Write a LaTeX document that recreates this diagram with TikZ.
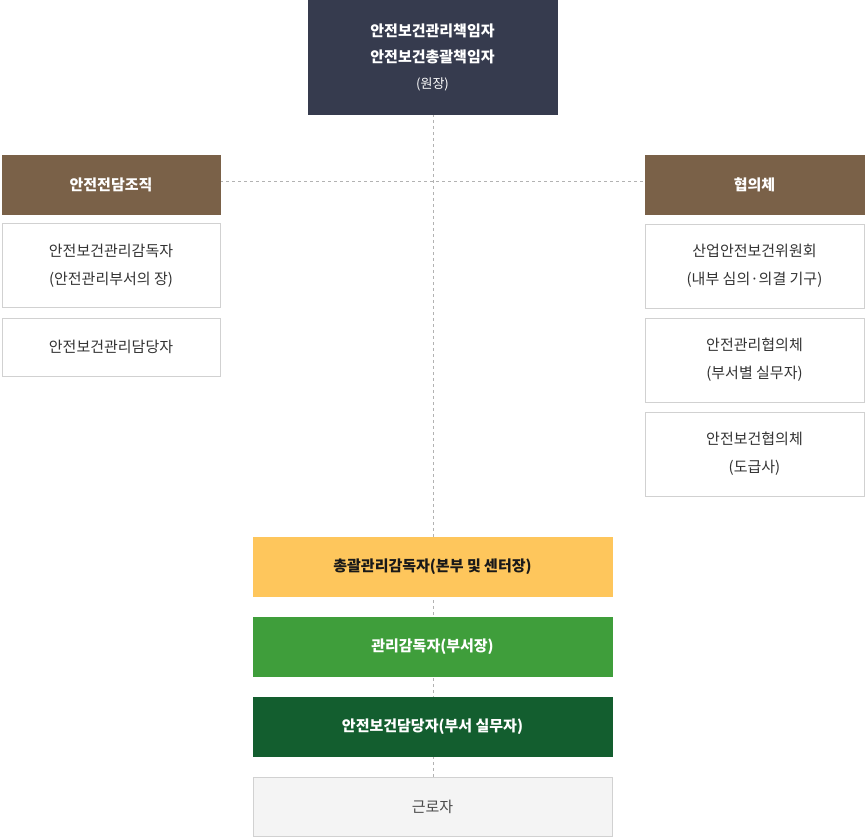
\documentclass[tikz,border=0pt]{standalone}
\usepackage{fontspec}
\setmainfont{Noto Sans CJK KR}
\newfontfamily\kb{Noto Sans CJK KR Bold}
\begin{document}
\begin{tikzpicture}[x=1pt,y=-1pt,
 bx/.style={draw=#1,fill=#1,inner sep=0pt,align=center,font=\fontsize{15}{26}\selectfont},
 wb/.style={draw=black!18,fill=white,inner sep=0pt,align=center,text=black!80,font=\fontsize{15}{28}\selectfont},
 ln/.style={draw=black!30,dashed,line width=0.8pt}]
\useasboundingbox (0,0) rectangle (866,838);
\definecolor{navy}{HTML}{363B4E}\definecolor{brn}{HTML}{7A6148}
\definecolor{ylw}{HTML}{FEC65C}\definecolor{grn}{HTML}{3F9E3B}
\definecolor{dgrn}{HTML}{135E2F}\definecolor{lg}{HTML}{F4F4F4}
\coordinate (vt) at (433,114); \coordinate (vb) at (433,777);
\draw[ln] (vt) -- (vb);
\coordinate (hl) at (220,181); \coordinate (hr) at (645,181);
\draw[ln] (hl) -- (hr);
\node[bx=navy,text=white,minimum width=249,minimum height=114] (top) at (432.5,57) {\bfseries 안전보건관리책임자\\ \bfseries 안전보건총괄책임자\\ {\fontsize{13}{13}\selectfont (원장)}};
\node[bx=brn,text=white,minimum width=218,minimum height=59,font=\fontsize{15}{20}\selectfont\bfseries] (l0) at (111,184.5) {안전전담조직};
\node[bx=brn,text=white,minimum width=219,minimum height=59,font=\fontsize{15}{20}\selectfont\bfseries] (r0) at (754.5,184.5) {협의체};
\node[wb,minimum width=218,minimum height=84] (l1) at (111,265.5) {안전보건관리감독자\\(안전관리부서의 장)};
\node[wb,minimum width=218,minimum height=58] (l2) at (111,347) {안전보건관리담당자};
\node[wb,minimum width=219,minimum height=84] (r1) at (754.5,266) {산업안전보건위원회\\(내부 심의·의결 기구)};
\node[wb,minimum width=219,minimum height=84] (r2) at (754.5,360) {안전관리협의체\\(부서별 실무자)};
\node[wb,minimum width=219,minimum height=84] (r3) at (754.5,454) {안전보건협의체\\(도급사)};
\node[bx=ylw,text=black!90,minimum width=359,minimum height=59,font=\fontsize{15}{20}\selectfont\bfseries] (b1) at (432.5,566.5) {총괄관리감독자(본부 및 센터장)};
\node[bx=grn,text=white,minimum width=359,minimum height=59,font=\fontsize{15}{20}\selectfont\bfseries] (b2) at (432.5,646.5) {관리감독자(부서장)};
\node[bx=dgrn,text=white,minimum width=359,minimum height=59,font=\fontsize{15}{20}\selectfont\bfseries] (b3) at (432.5,726.5) {안전보건담당자(부서 실무자)};
\node[wb,fill=lg,minimum width=359,minimum height=59,text=black!70] (b4) at (432.5,806.5) {근로자};
\end{tikzpicture}
\end{document}
